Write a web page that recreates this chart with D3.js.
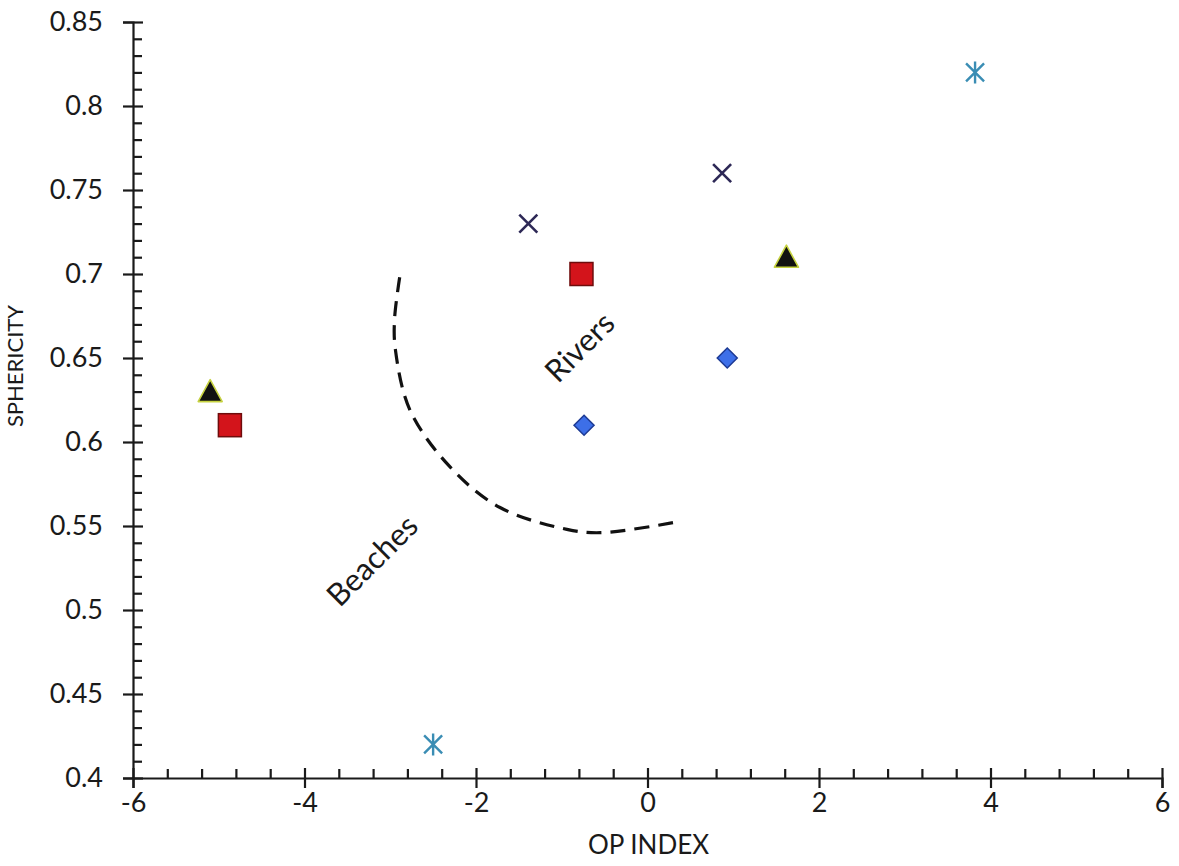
<!DOCTYPE html>
<html>
<head>
<meta charset="utf-8">
<script src="https://cdn.jsdelivr.net/npm/d3@7"></script>
<style>
  html, body { margin: 0; padding: 0; background: #fff; }
  svg { display: block; font-family: Lato, "Open Sans", sans-serif; }
  .axis path, .axis line { stroke: #1a1a1a; }
  .axis text { fill: #1a1a1a; }
</style>
</head>
<body>
<svg id="chart" width="1179" height="866"></svg>
<script>
// OP index vs sphericity for each sample group
const squares   = [[-4.87, 0.61], [-0.77, 0.70]];
const triangles = [[-5.10, 0.63], [1.62, 0.71]];
const diamonds  = [[-0.74, 0.61], [0.93, 0.65]];
const crosses   = [[-1.39, 0.73], [0.87, 0.76]];
const asterisks = [[-2.50, 0.42], [3.82, 0.82]];

// dashed boundary between beach and river sands
const boundary = [
  [-2.89, 0.698], [-2.95, 0.673], [-2.94, 0.655], [-2.77, 0.619],
  [-2.30, 0.585], [-1.72, 0.561], [-0.94, 0.548], [-0.55, 0.546], [0.30, 0.552]
];
const regionLabels = [
  { text: "Rivers",  x: -0.80, y: 0.657 },
  { text: "Beaches", x: -3.22, y: 0.530 }
];

const xMajor = [-6, -4, -2, 0, 2, 4, 6];
const xTickLabels = ["-6", "-4", "-2", "0", "2", "4", "6"];
const yMajor = [0.4, 0.45, 0.5, 0.55, 0.6, 0.65, 0.7, 0.75, 0.8, 0.85];
const yTickLabels = ["0.4", "0.45", "0.5", "0.55", "0.6", "0.65", "0.7", "0.75", "0.8", "0.85"];
const xMinor = d3.range(-6, 6.001, 0.4).map(v => +v.toFixed(2)).filter(v => !xMajor.some(m => Math.abs(m - v) < 1e-6));
const yMinor = d3.range(0.40, 0.8501, 0.01).map(v => +v.toFixed(2)).filter(v => !yMajor.some(m => Math.abs(m - v) < 1e-6));

const svg = d3.select("#chart");
const x = d3.scaleLinear().domain([-6, 6]).range([133, 1162]);
const y = d3.scaleLinear().domain([0.4, 0.85]).range([778, 22]);

const fontSize = 27;

// x axis: labels + major ticks below, major/minor ticks above
const gx = svg.append("g").attr("class", "axis").attr("transform", `translate(0,${y(0.4)})`);
gx.call(d3.axisBottom(x).tickValues(xMajor).tickFormat((d, i) => xTickLabels[i]).tickSize(10).tickPadding(5))
  .call(g => g.select(".domain").attr("stroke-width", 2.2))
  .call(g => g.selectAll(".tick line").attr("stroke-width", 2.2))
  .call(g => g.selectAll(".tick text").attr("font-size", fontSize).attr("font-family", "Lato"));
gx.append("g").call(d3.axisBottom(x).tickValues(xMajor).tickSize(-10).tickFormat(""))
  .call(g => g.select(".domain").remove())
  .call(g => g.selectAll(".tick line").attr("stroke-width", 2.2));
gx.append("g").call(d3.axisBottom(x).tickValues(xMinor).tickSize(-9).tickFormat(""))
  .call(g => g.select(".domain").remove())
  .call(g => g.selectAll(".tick line").attr("stroke-width", 2.2));

// y axis
const gy = svg.append("g").attr("class", "axis").attr("transform", `translate(${x(-6)},0)`);
gy.call(d3.axisLeft(y).tickValues(yMajor).tickFormat((d, i) => yTickLabels[i]).tickSize(10).tickPadding(20))
  .call(g => g.select(".domain").attr("stroke-width", 2.2))
  .call(g => g.selectAll(".tick line").attr("stroke-width", 2.2))
  .call(g => g.selectAll(".tick text").attr("font-size", fontSize).attr("font-family", "Lato"));
gy.append("g").call(d3.axisLeft(y).tickValues(yMajor).tickSize(-10).tickFormat(""))
  .call(g => g.select(".domain").remove())
  .call(g => g.selectAll(".tick line").attr("stroke-width", 2.2));
gy.append("g").call(d3.axisLeft(y).tickValues(yMinor).tickSize(-9).tickFormat(""))
  .call(g => g.select(".domain").remove())
  .call(g => g.selectAll(".tick line").attr("stroke-width", 2.2));

// axis titles
svg.append("text")
  .attr("x", (x(-6) + x(6)) / 2 + 1).attr("y", 854)
  .attr("text-anchor", "middle").attr("font-size", 26).attr("fill", "#1a1a1a")
  .text("OP INDEX");
svg.append("text")
  .attr("transform", `translate(23,366) rotate(-90)`)
  .attr("text-anchor", "middle").attr("font-size", 22).attr("fill", "#1a1a1a")
  .text("SPHERICITY");

// boundary curve
svg.append("path")
  .datum(boundary)
  .attr("d", d3.line().x(d => x(d[0])).y(d => y(d[1])).curve(d3.curveCatmullRom))
  .attr("fill", "none").attr("stroke", "#111").attr("stroke-width", 3.2)
  .attr("stroke-dasharray", "15,9");

svg.selectAll(".region-label").data(regionLabels).join("text")
  .attr("class", "region-label")
  .attr("transform", d => `translate(${x(d.x)},${y(d.y)}) rotate(-45)`)
  .attr("text-anchor", "middle").attr("dominant-baseline", "central")
  .attr("font-size", 31).attr("fill", "#1a1a1a")
  .text(d => d.text);

// markers
const pt = d => `translate(${x(d[0])},${y(d[1])})`;

svg.selectAll(".sq").data(squares).join("rect")
  .attr("class", "sq").attr("transform", pt)
  .attr("x", -11.5).attr("y", -11.5).attr("width", 23).attr("height", 23)
  .attr("fill", "#d3141b").attr("stroke", "#6e0c0c").attr("stroke-width", 1.5);

svg.selectAll(".tri").data(triangles).join("path")
  .attr("class", "tri").attr("transform", pt)
  .attr("d", "M0,-12 L12,10 L-12,10 Z")
  .attr("fill", "#111").attr("stroke", "#c6d240").attr("stroke-width", 1.6)
  .attr("stroke-linejoin", "round");

svg.selectAll(".dia").data(diamonds).join("path")
  .attr("class", "dia").attr("transform", pt)
  .attr("d", "M0,-10 L10,0 L0,10 L-10,0 Z")
  .attr("fill", "#3d6fe8").attr("stroke", "#1d3a94").attr("stroke-width", 1.5);

svg.selectAll(".cross").data(crosses).join("path")
  .attr("class", "cross").attr("transform", pt)
  .attr("d", "M-9,-9 L9,9 M-9,9 L9,-9")
  .attr("fill", "none").attr("stroke", "#2d2856").attr("stroke-width", 2.6);

svg.selectAll(".star").data(asterisks).join("path")
  .attr("class", "star").attr("transform", pt)
  .attr("d", "M-9,-9 L9,9 M-9,9 L9,-9 M0,-11 L0,11")
  .attr("fill", "none").attr("stroke", "#3a8db4").attr("stroke-width", 2.4);
</script>
</body>
</html>
